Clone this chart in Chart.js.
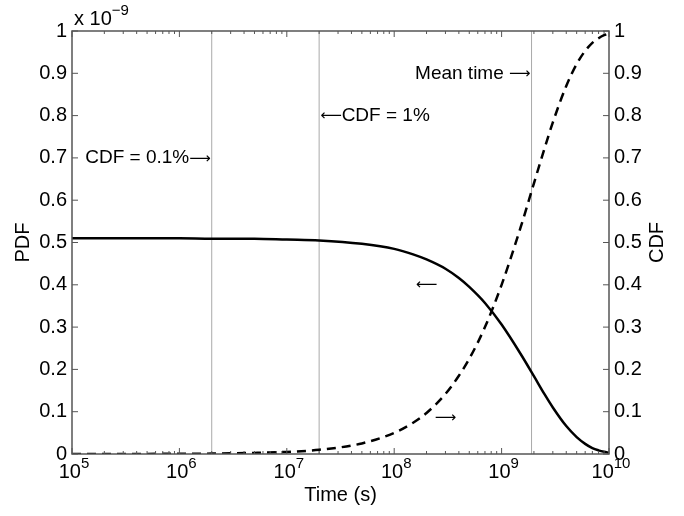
<!DOCTYPE html>
<html>
<head>
<meta charset="utf-8">
<script src="https://cdn.jsdelivr.net/npm/chart.js@4.4.1/dist/chart.umd.min.js"></script>
<style>
  html, body { margin: 0; padding: 0; background: #fff; }
  canvas { display: block; }
</style>
</head>
<body>
<canvas id="pdfChart" width="684" height="516"></canvas>
<script>
// time samples (s)
const timeS = [1e5, 1e6, 2e6, 5e6, 1e7, 2e7, 5e7, 1e8, 1.5e8, 2e8, 3e8, 4e8, 5e8, 7e8,
               1e9, 1.5e9, 2e9, 2.5e9, 3e9, 4e9, 5e9, 6e9, 7e9, 8e9, 9e9, 1e10];
// PDF in units of 1e-9
const pdfE9 = [0.510, 0.510, 0.509, 0.509, 0.507, 0.505, 0.497, 0.485, 0.472, 0.460, 0.438, 0.416, 0.395, 0.357,
               0.306, 0.237, 0.184, 0.142, 0.110, 0.066, 0.040, 0.024, 0.014, 0.0086, 0.0052, 0.0031];
const cdfVals = [0.0001, 0.0005, 0.001, 0.0026, 0.005, 0.010, 0.025, 0.050, 0.074, 0.097, 0.142, 0.185, 0.225, 0.300,
                 0.400, 0.535, 0.640, 0.721, 0.784, 0.870, 0.922, 0.953, 0.972, 0.983, 0.990, 0.994];

// vertical reference lines: CDF = 0.1%, CDF = 1%, mean time
const markerTimes = [2e6, 2e7, 1.9e9];

const yTicks = [0, 0.1, 0.2, 0.3, 0.4, 0.5, 0.6, 0.7, 0.8, 0.9, 1];
const yTickLabels = ['0', '0.1', '0.2', '0.3', '0.4', '0.5', '0.6', '0.7', '0.8', '0.9', '1'];
const xTicks = [1e5, 1e6, 1e7, 1e8, 1e9, 1e10];
const xTickExps = ['5', '6', '7', '8', '9', '10'];

const FONT = "'Liberation Sans', Arial, Helvetica, sans-serif";
const ARROW_FONT = "15px 'DejaVu Sans', sans-serif";
const RIGHT_ARROW = '\u27F6';
const LEFT_ARROW = '\u27F5';
const AXIS_COLOR = '#555';

// draw a run of text pieces with their own fonts, aligned as a whole
function drawRun(ctx, parts, x, y, align) {
    let total = 0;
    parts.forEach(p => { ctx.font = p.font; p.w = ctx.measureText(p.text).width; total += p.w; });
    let cx = align === 'right' ? x - total : align === 'center' ? x - total / 2 : x;
    ctx.textAlign = 'left';
    parts.forEach(p => { ctx.font = p.font; ctx.fillText(p.text, cx, y + (p.dy || 0)); cx += p.w; });
}

const frame = {
    id: 'frame',
    afterDraw(chart) {
        const { ctx, chartArea: a } = chart;
        const xs = chart.scales.x, ys = chart.scales.y, ys2 = chart.scales.y2;
        ctx.save();

        // box
        ctx.strokeStyle = AXIS_COLOR;
        ctx.lineWidth = 1.5;
        ctx.strokeRect(a.left, a.top, a.right - a.left, a.bottom - a.top);

        // inward ticks
        ctx.lineWidth = 1;
        ctx.beginPath();
        yTicks.forEach(v => {
            const py = ys.getPixelForValue(v);
            ctx.moveTo(a.left, py); ctx.lineTo(a.left + 6, py);
            const py2 = ys2.getPixelForValue(v);
            ctx.moveTo(a.right, py2); ctx.lineTo(a.right - 6, py2);
        });
        xTicks.forEach((v, i) => {
            const px = xs.getPixelForValue(v);
            ctx.moveTo(px, a.bottom); ctx.lineTo(px, a.bottom - 6);
            ctx.moveTo(px, a.top); ctx.lineTo(px, a.top + 6);
            if (i < xTicks.length - 1) {
                for (let m = 2; m <= 9; m++) {
                    const pm = xs.getPixelForValue(v * m);
                    ctx.moveTo(pm, a.bottom); ctx.lineTo(pm, a.bottom - 3);
                    ctx.moveTo(pm, a.top); ctx.lineTo(pm, a.top + 3);
                }
            }
        });
        ctx.stroke();

        ctx.fillStyle = '#000';
        ctx.textBaseline = 'alphabetic';

        // x tick labels 10^n
        xTicks.forEach((v, i) => {
            drawRun(ctx, [
                { text: '10', font: '20px ' + FONT },
                { text: xTickExps[i], font: '15px ' + FONT, dy: -10 }
            ], xs.getPixelForValue(v) + 2, a.bottom + 24, 'center');
        });

        // axis titles
        ctx.font = '20px ' + FONT;
        ctx.textAlign = 'center';
        ctx.fillText('Time (s)', (a.left + a.right) / 2, a.bottom + 47);
        const midY = (a.top + a.bottom) / 2;
        ctx.save();
        ctx.translate(29, midY);
        ctx.rotate(-Math.PI / 2);
        ctx.fillText('PDF', 0, 0);
        ctx.restore();
        ctx.save();
        ctx.translate(663, midY);
        ctx.rotate(-Math.PI / 2);
        ctx.fillText('CDF', 0, 0);
        ctx.restore();

        // exponent multiplier
        drawRun(ctx, [
            { text: 'x 10', font: '20px ' + FONT },
            { text: '\u22129', font: '15px ' + FONT, dy: -10 }
        ], a.left + 2, 25, 'left');

        // annotations
        const tf = '19px ' + FONT;
        ctx.textBaseline = 'middle';
        drawRun(ctx, [{ text: 'CDF = 0.1%', font: tf }, { text: RIGHT_ARROW, font: ARROW_FONT, dy: 1 }],
                xs.getPixelForValue(markerTimes[0]) - 1, ys.getPixelForValue(0.7), 'right');
        drawRun(ctx, [{ text: 'Mean time ', font: tf }, { text: RIGHT_ARROW, font: ARROW_FONT, dy: 1 }],
                xs.getPixelForValue(markerTimes[2]) - 1, ys.getPixelForValue(0.9), 'right');
        drawRun(ctx, [{ text: LEFT_ARROW, font: ARROW_FONT, dy: 1 }, { text: 'CDF = 1%', font: tf }],
                xs.getPixelForValue(markerTimes[1]) + 1, ys.getPixelForValue(0.8), 'left');
        drawRun(ctx, [{ text: LEFT_ARROW, font: ARROW_FONT }], xs.getPixelForValue(2e8), ys.getPixelForValue(0.4), 'center');
        drawRun(ctx, [{ text: RIGHT_ARROW, font: ARROW_FONT }], xs.getPixelForValue(3e8), ys.getPixelForValue(0.085), 'center');

        ctx.restore();
    }
};

function yAxis(position, width) {
    return {
        type: 'linear',
        position: position,
        min: 0,
        max: 1,
        afterBuildTicks: s => { s.ticks = yTicks.map(v => ({ value: v })); },
        afterFit: s => { s.width = width; },
        grid: { display: false, drawTicks: false },
        border: { display: false },
        ticks: {
            padding: 5,
            color: '#000',
            font: { family: FONT, size: 20 },
            callback: (v, i) => yTickLabels[i]
        }
    };
}

const markerSets = markerTimes.map(t => ({
    data: [{ x: t, y: 0 }, { x: t, y: 1 }],
    yAxisID: 'y2',
    borderColor: '#aaaaaa',
    borderWidth: 1,
    pointRadius: 0,
    order: 3
}));

new Chart(document.getElementById('pdfChart'), {
    type: 'line',
    data: {
        datasets: [
            {
                label: 'PDF',
                data: timeS.map((t, i) => ({ x: t, y: pdfE9[i] })),
                yAxisID: 'y',
                borderColor: '#000',
                borderWidth: 2.5,
                pointRadius: 0,
                cubicInterpolationMode: 'monotone',
                order: 1
            },
            {
                label: 'CDF',
                data: timeS.map((t, i) => ({ x: t, y: cdfVals[i] })),
                yAxisID: 'y2',
                borderColor: '#000',
                borderWidth: 2.5,
                borderDash: [9, 6],
                pointRadius: 0,
                cubicInterpolationMode: 'monotone',
                order: 2
            },
            ...markerSets
        ]
    },
    options: {
        responsive: false,
        animation: false,
        devicePixelRatio: 1,
        layout: { padding: { top: 31, left: 0, right: 0, bottom: 0 } },
        scales: {
            x: {
                type: 'logarithmic',
                min: 1e5,
                max: 1e10,
                afterFit: s => { s.height = 62; },
                grid: { display: false, drawTicks: false },
                border: { display: false },
                ticks: { display: false }
            },
            y: yAxis('left', 72),
            y2: yAxis('right', 75)
        },
        plugins: {
            legend: { display: false },
            tooltip: { enabled: false }
        }
    },
    plugins: [frame]
});
</script>
</body>
</html>
